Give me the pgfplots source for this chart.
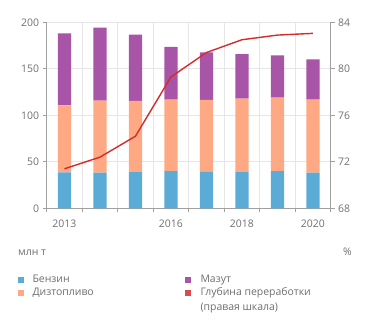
\documentclass[border=0pt]{standalone}
\usepackage{pgfplots}
\pgfplotsset{compat=1.18}
\usepackage{fontspec}
\setmainfont{Open Sans}
\definecolor{cBlue}{HTML}{5AABD6}
\definecolor{cOrange}{HTML}{FEA983}
\definecolor{cPurple}{HTML}{A855A8}
\definecolor{cRed}{HTML}{D42B2B}
\definecolor{gridgray}{HTML}{E6E6E6}
\definecolor{axgray}{HTML}{A0A0A0}
\definecolor{labgray}{HTML}{6E6E6E}
\begin{document}
\begin{tikzpicture}
\path[use as bounding box] (0,0) rectangle (371bp,-329bp);
\begin{axis}[
  at={(46.7bp,-208.3bp)}, anchor=south west,
  width=284bp, height=186bp, scale only axis,
  xmin=2012.5, xmax=2020.5, ymin=0, ymax=200,
  ybar stacked, bar width=13.3bp,
  xtick={2012.5,2013.5,...,2020.5}, xticklabels={},
  extra x ticks={2013,2016,2018,2020},
  extra x tick labels={2013,2016,2018,2020},
  extra x tick style={grid=none, major tick length=0pt, xticklabel style={yshift=-8bp}},
  ytick={0,50,...,200},
  xmajorgrids, ymajorgrids,
  grid style={color=gridgray, line width=0.7bp},
  axis x line*=bottom, axis y line*=left,
  axis line style={axgray, line width=0.8bp, -},
  tick style={axgray, line width=0.8bp},
  tick align=outside, major tick length=4bp,
  ticklabel style={text=labgray, font=\fontsize{10.5}{12}\selectfont},
  /pgf/number format/assume math mode=true,
  /pgf/number format/1000 sep={},
]
\addplot[fill=cBlue, draw=none] coordinates {(2013,38.7) (2014,38.4) (2015,39.4) (2016,40.1) (2017,39.1) (2018,39.4) (2019,40.1) (2020,38.4)};
\addplot[fill=cOrange, draw=none] coordinates {(2013,72.1) (2014,77.4) (2015,76.0) (2016,76.7) (2017,77.4) (2018,78.5) (2019,78.9) (2020,78.4)};
\addplot[fill=cPurple, draw=none] coordinates {(2013,77.4) (2014,78.5) (2015,71.3) (2016,56.7) (2017,51.2) (2018,48.0) (2019,45.5) (2020,43.4)};
\end{axis}
\begin{axis}[
  at={(46.7bp,-208.3bp)}, anchor=south west,
  width=284bp, height=186bp, scale only axis,
  xmin=2012.5, xmax=2020.5, ymin=68, ymax=84,
  axis y line*=right, axis x line=none,
  ytick={68,72,...,84},
  axis line style={axgray, line width=0.8bp, -},
  tick style={axgray, line width=0.8bp},
  tick align=outside, major tick length=4bp,
  ticklabel style={text=labgray, font=\fontsize{10.5}{12}\selectfont},
  /pgf/number format/assume math mode=true,
]
\addplot[cRed, line width=1.4bp, mark=none] coordinates {(2013,71.4) (2014,72.4) (2015,74.2) (2016,79.3) (2017,81.4) (2018,82.5) (2019,82.9) (2020,83.05)};
\end{axis}
\begin{scope}[every node/.style={inner sep=0pt, text=labgray, font=\fontsize{10.5}{12.5}\selectfont}]
\node[anchor=mid west] at (18bp,-253bp) {млн т};
\node[anchor=mid east] at (352bp,-253bp) {\%};
\fill[cBlue] (17.7bp,-277.3bp) rectangle (23.7bp,-283.3bp);
\fill[cOrange] (17.7bp,-289.7bp) rectangle (23.7bp,-295.7bp);
\fill[cPurple] (185.3bp,-277.3bp) rectangle (191.3bp,-283.3bp);
\fill[cRed!85!white] (185.3bp,-289.7bp) rectangle (191.3bp,-295.7bp);
\node[anchor=mid west] at (32.3bp,-280.3bp) {Бензин};
\node[anchor=mid west] at (32.3bp,-292.7bp) {Дизтопливо};
\node[anchor=mid west] at (200.3bp,-280.3bp) {Мазут};
\node[anchor=mid west] at (200.3bp,-292.7bp) {Глубина переработки};
\node[anchor=mid west] at (200.3bp,-308.3bp) {(правая шкала)};
\end{scope}
\end{tikzpicture}
\end{document}
